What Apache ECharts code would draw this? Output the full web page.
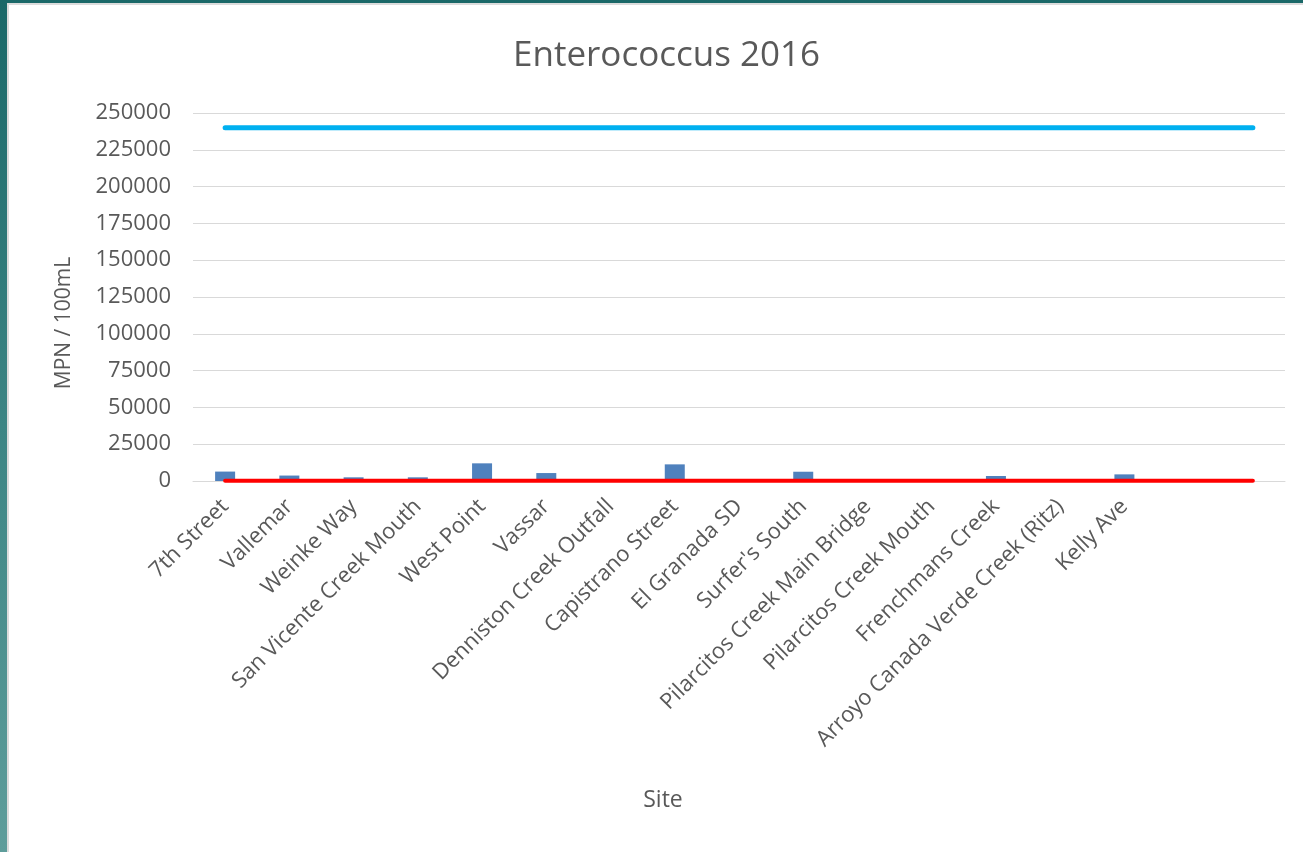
<!DOCTYPE html>
<html>
<head>
<meta charset="utf-8">
<script src="https://cdn.jsdelivr.net/npm/echarts@6/dist/echarts.min.js"></script>
<style>
  html, body { margin: 0; padding: 0; }
  body {
    width: 1303px; height: 852px; overflow: hidden; position: relative;
    background: linear-gradient(to bottom, #1a6868 0%, #3d8584 50%, #5e9d9b 100%);
  }
  #panel {
    position: absolute; left: 7px; top: 3px; right: 0; bottom: 0;
    background: #ffffff;
    border-left: 2px solid #dcdcdc; border-top: 2px solid #dcdcdc;
  }
  #chart { position: absolute; left: 0; top: 0; width: 1303px; height: 852px; }
</style>
</head>
<body>
<div id="panel"></div>
<div id="chart"></div>
<script>
// Sampling sites (two trailing slots left blank)
const sites = [
  '7th Street', 'Vallemar', 'Weinke Way', 'San Vicente Creek Mouth', 'West Point',
  'Vassar', 'Denniston Creek Outfall', 'Capistrano Street', 'El Granada SD',
  "Surfer's South", 'Pilarcitos Creek Main Bridge', 'Pilarcitos Creek Mouth',
  'Frenchmans Creek', 'Arroyo Canada Verde Creek (Ritz)', 'Kelly Ave', '', ''
];

// Enterococcus, MPN / 100mL
const enterococcus = [6400, 3700, 2500, 2500, 12000, 5400, 0, 11300, 0, 6300, 0, 0, 3400, 0, 4500, null, null];

// Reference levels drawn across every slot
const upperLevel = Array(17).fill(240000);
const lowerLevel = Array(17).fill(104);

const yTicks = { min: 0, max: 250000, interval: 25000 };

const FONT = '"Open Sans", "Noto Sans", sans-serif';
const GREY = '#595959';

const chart = echarts.init(document.getElementById('chart'), null, { renderer: 'canvas' });
chart.setOption({
  backgroundColor: 'transparent',
  animation: false,
  title: {
    text: 'Enterococcus 2016',
    left: 508,
    top: 34,
    textStyle: { fontFamily: FONT, fontSize: 35, fontWeight: 'normal', color: GREY }
  },
  graphic: [
    {
      type: 'text',
      x: 663, y: 800,
      style: {
        text: 'Site', font: '23px "Open Sans", sans-serif', fill: GREY,
        align: 'center', verticalAlign: 'middle'
      }
    },
    {
      type: 'text',
      x: 64, y: 323,
      rotation: Math.PI / 2,
      style: {
        text: 'MPN / 100mL', font: '21px "Open Sans", sans-serif', fill: GREY,
        align: 'center', verticalAlign: 'middle'
      }
    }
  ],
  grid: { left: 193, right: 18, top: 113, bottom: 371, containLabel: false },
  xAxis: {
    type: 'category',
    data: sites,
    boundaryGap: true,
    axisLine: { show: true, lineStyle: { color: '#d9d9d9', width: 1 } },
    axisTick: { show: false },
    axisLabel: {
      rotate: 45, interval: 0, margin: 22,
      fontFamily: FONT, fontSize: 22, color: GREY
    }
  },
  yAxis: {
    type: 'value',
    min: yTicks.min, max: yTicks.max, interval: yTicks.interval,
    axisLine: { show: false },
    axisTick: { show: false },
    axisLabel: {
      margin: 22, fontFamily: FONT, fontSize: 22, color: GREY,
      formatter: v => String(v)
    },
    splitLine: { lineStyle: { color: '#d9d9d9', width: 1 } }
  },
  series: [
    {
      name: 'Enterococcus',
      type: 'bar',
      data: enterococcus,
      barWidth: 20,
      itemStyle: { color: '#4f81bd' },
      z: 2
    },
    {
      name: 'Upper level',
      type: 'line',
      data: upperLevel,
      symbol: 'none',
      lineStyle: { color: '#00b0f0', width: 5, cap: 'round' },
      z: 3
    },
    {
      name: 'Lower level',
      type: 'line',
      data: lowerLevel,
      symbol: 'none',
      lineStyle: { color: '#ff0000', width: 4, cap: 'round' },
      z: 4
    }
  ]
});
</script>
</body>
</html>
